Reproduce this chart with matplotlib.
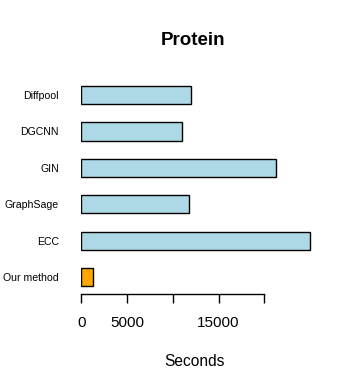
import matplotlib
matplotlib.use("Agg")
import matplotlib.pyplot as plt

# Runtime (seconds) on the Protein dataset, bottom to top
methods = ["Our method", "ECC", "GraphSage", "GIN", "DGCNN", "Diffpool"]
seconds = [1250, 25000, 11750, 21250, 11000, 12000]
colors = ["#FFA500", "#ADD8E6", "#ADD8E6", "#ADD8E6", "#ADD8E6", "#ADD8E6"]
xticks = [0, 5000, 10000, 15000, 20000]
xticklabels = ["0", "5000", "", "15000", ""]

plt.rcParams["font.family"] = ["Liberation Sans", "DejaVu Sans"]

W, H = 350, 391
fig = plt.figure(figsize=(W / 100, H / 100), dpi=100)
ax = fig.add_axes([0.2323, 0.2471, 0.6797, 0.5565])

ax.barh(range(len(methods)), seconds, height=0.5, color=colors,
        edgecolor="black", linewidth=1.0)

ax.set_xlim(0, 26000)
ax.set_ylim(-0.47, 5.5)
for s in ("top", "right", "left"):
    ax.spines[s].set_visible(False)
ax.spines["bottom"].set_bounds(0, 20000)
ax.spines["bottom"].set_linewidth(1.0)

ax.set_xticks(xticks)
ax.set_xticklabels(xticklabels, fontsize=11)
ax.tick_params(axis="x", length=6.8, width=1.0, pad=8.5)
ax.set_yticks(range(len(methods)))
ax.set_yticklabels(methods, fontsize=7.6)
ax.tick_params(axis="y", length=0, pad=16)

fig.text(193 / W, 1 - 40.7 / H, "Protein", ha="center", va="center",
         fontsize=13.5, fontweight="bold")
fig.text(194 / W, 1 - 361 / H, "Seconds", ha="center", va="center",
         fontsize=11.2)

fig.savefig("out.png", dpi=100)
